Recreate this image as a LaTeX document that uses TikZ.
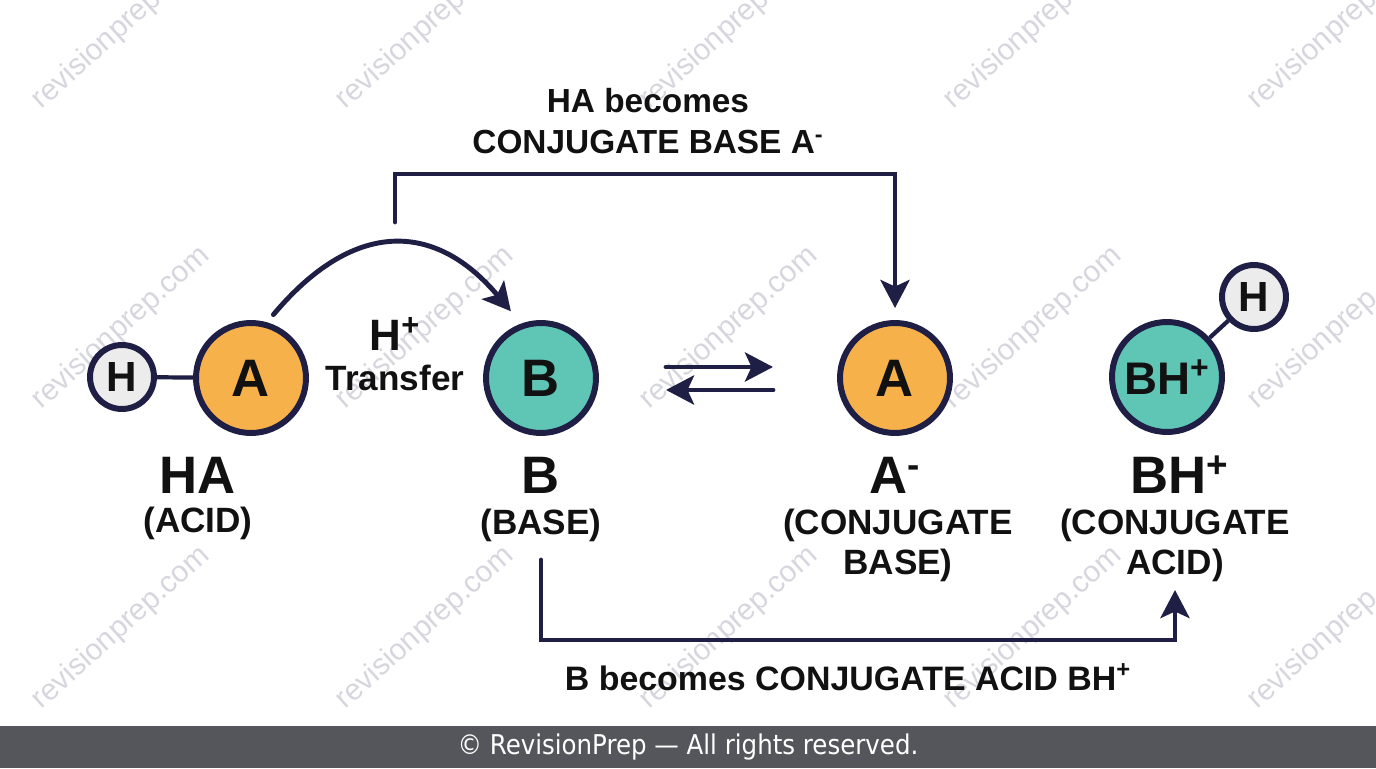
\documentclass[tikz,border=0pt]{standalone}
\usepackage{fontspec}
\setmainfont{Liberation Sans}
\newfontfamily\footfont{DejaVu Sans Condensed}
\usetikzlibrary{arrows.meta,positioning,calc}
\definecolor{InkNavy}{RGB}{31,30,69}
\definecolor{AcidOrange}{RGB}{247,177,75}
\definecolor{BaseTeal}{RGB}{95,198,182}
\definecolor{ProtonGrey}{RGB}{236,236,236}
\definecolor{FooterGrey}{RGB}{85,86,91}
\definecolor{MarkGrey}{RGB}{214,214,222}
\definecolor{TextBlack}{RGB}{17,17,17}
\newcommand{\fsz}[2]{\fontsize{#1}{#2}\selectfont}

\begin{document}
\begin{tikzpicture}[x=0.02cm, y=0.02cm,
    every node/.style={align=center, text=TextBlack},
    atom/.style={circle, draw=InkNavy, line width=3.4pt, inner sep=0pt, minimum size=2.2cm, font=\fsz{30}{34}\bfseries},
    proton/.style={atom, minimum size=1.28cm, fill=ProtonGrey, font=\fsz{24}{28}\bfseries},
    bond/.style={draw=InkNavy, line width=2.4pt},
    flow/.style={draw=InkNavy, line width=2.8pt, line cap=round, -{Stealth[length=5.6mm, width=5.8mm, inset=1.3mm]}},
    title/.style={font=\fsz{30}{34}\bfseries},
    role/.style={font=\fsz{20}{22.7}\bfseries},
    watermark/.style={text=MarkGrey, font=\fsz{17}{20}, rotate=42},
    footer/.style={fill=FooterGrey, text=white, minimum width=27.52cm, minimum height=0.84cm, inner sep=0pt, font=\footfont\fsz{15.5}{17}}]
  \useasboundingbox (0,0) rectangle (1376,768);
  % Watermark grid
  \foreach \col in {0,...,4}
    \foreach \row in {0,1,2}
      \node[watermark] (mark-\col-\row) at ({121+304*\col},{140+300*\row}) {revisionprep.com};
  % Molecules
  \node[proton] (hacid) at (122,391) {H};
  \node[atom, fill=AcidOrange] (acid) at (251,390) {A};
  \node[atom, fill=BaseTeal] (base) at (541,390) {B};
  \node[atom, fill=AcidOrange] (conjbase) at (895,390) {A};
  \node[atom, fill=BaseTeal, font=\fsz{26}{30}\bfseries] (conjacid) at (1167,391) {BH\textsuperscript{+}};
  \node[proton] (hbase) at (1254,471) {H};
  \draw[bond] (hacid) -- (acid);
  \draw[bond] (hbase) -- (conjacid);
  % Names under the molecules
  \node[title] (acidname) at (198,293) {HA};
  \node[role] (acidrole) at (198,245) {(ACID)};
  \node[title] (basename) at (541,293) {B};
  \node[role] (baserole) at (541,243) {(BASE)};
  \node[title] (cbname) at (895,293) {A\textsuperscript{-}};
  \node[role] (cbrole) at (898,223) {(CONJUGATE\\BASE)};
  \node[title] (caname) at (1180,293) {BH\textsuperscript{+}};
  \node[role] (carole) at (1175,223) {(CONJUGATE\\ACID)};
  % Proton transfer
  \node[font=\fsz{25}{28}\bfseries] (hplus) at (395,434) {H\textsuperscript{+}};
  \node[font=\fsz{20}{23}\bfseries] (transfer) at (395,390) {Transfer};
  \draw[flow, shorten <=0.2cm, shorten >=0.32cm] (acid.74) to[out=50, in=130, looseness=1.35] (base.110);
  % Equilibrium
  \coordinate (fwdL) at (666,401);
  \coordinate (fwdR) at (773,401);
  \coordinate (revL) at (666,378);
  \coordinate (revR) at (773,378);
  \draw[flow] (fwdL) -- (fwdR);
  \draw[flow] (revR) -- (revL);
  % Conjugate pairs
  \node[font=\fsz{19}{23.5}\bfseries] (toplabel) at (648,647) {HA becomes\\CONJUGATE BASE A\textsuperscript{-}};
  \coordinate (acidfrom) at (395,546);
  \draw[flow, shorten >=0.24cm] (acidfrom) -- ++(0,48) -| (conjbase.north);
  \coordinate (basefrom) at (541,208);
  \coordinate (acidto) at (1175,178);
  \draw[flow] (basefrom) -- ++(0,-80) -| (acidto);
  \node[font=\fsz{19.3}{22}\bfseries] (botlabel) at (848,91) {B becomes CONJUGATE ACID BH\textsuperscript{+}};
  % Footer
  \node[footer] (copyright) at (688,21) {© RevisionPrep — All rights reserved.};
\end{tikzpicture}
\end{document}
